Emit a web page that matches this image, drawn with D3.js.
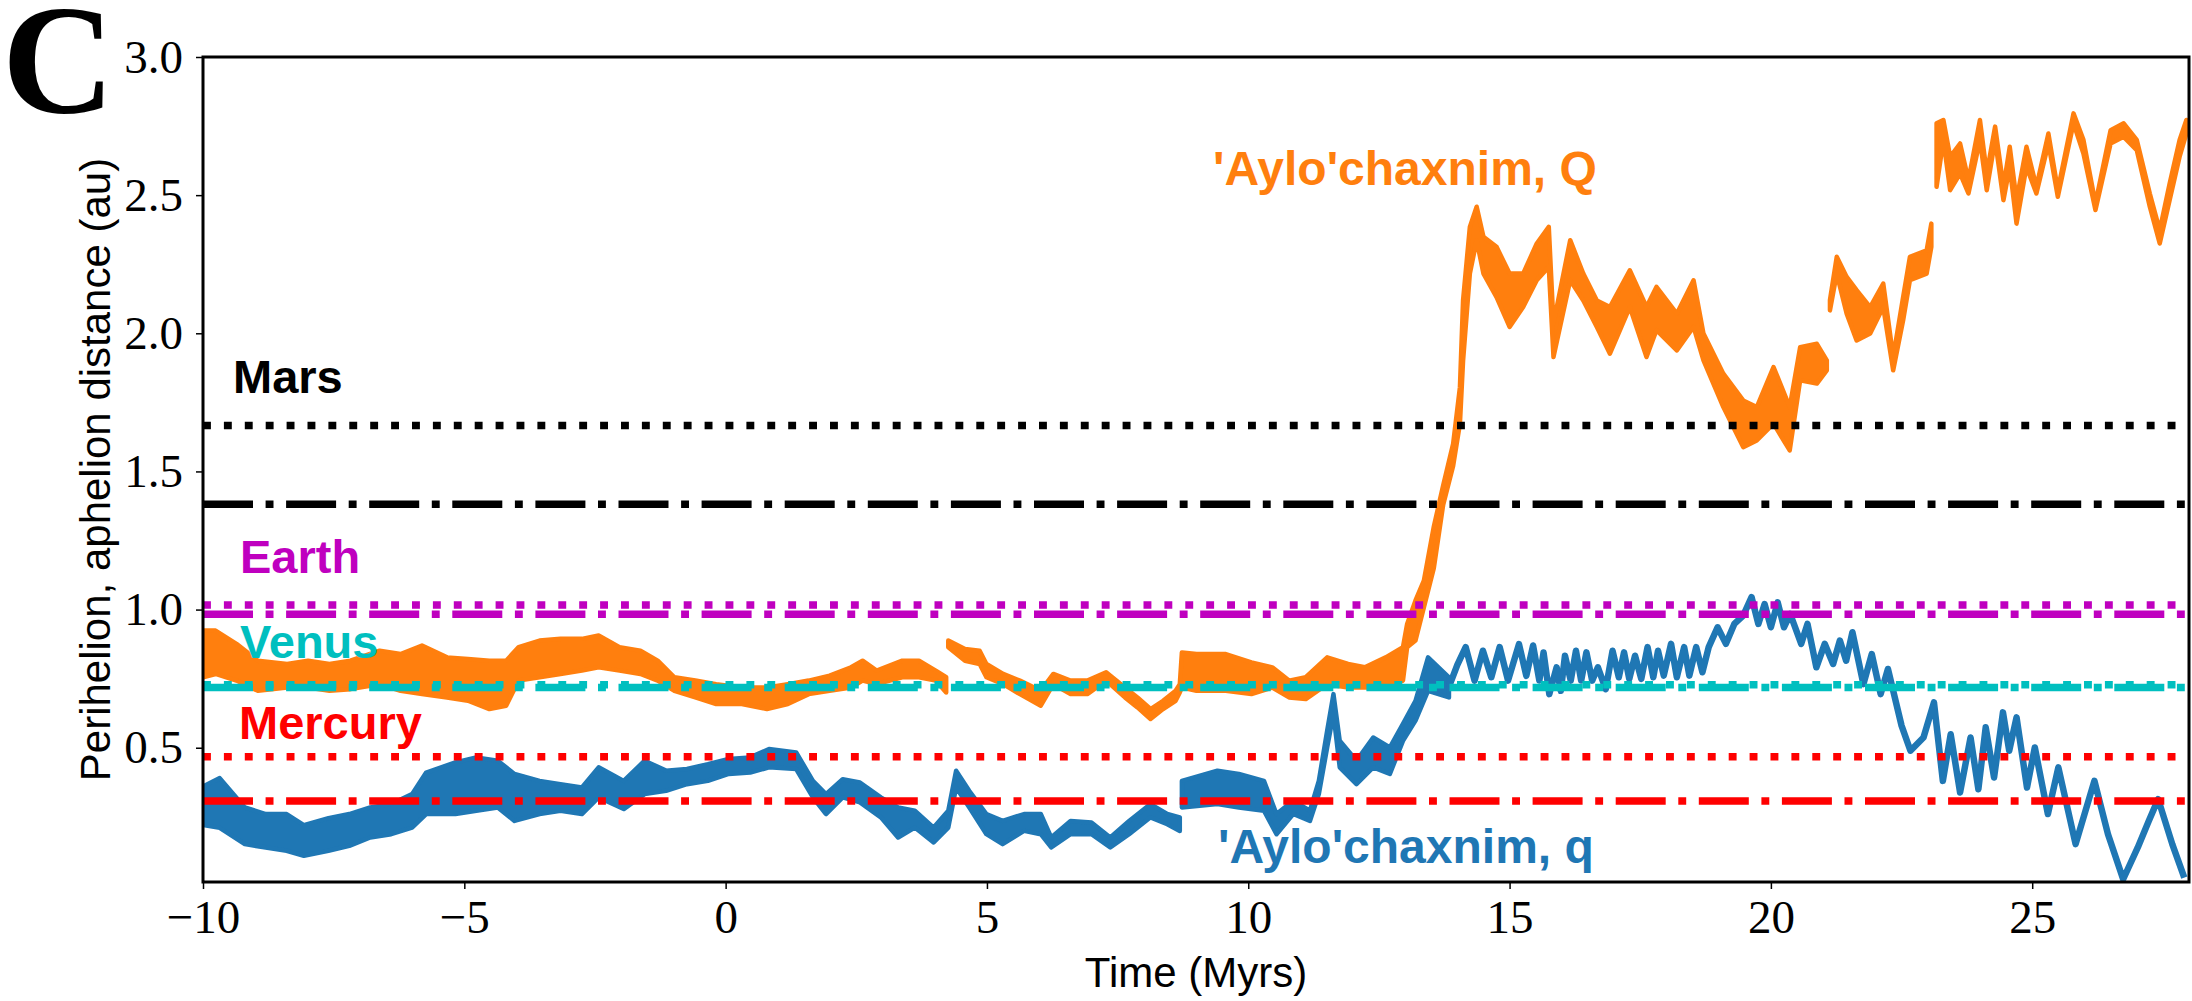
<!DOCTYPE html>
<head>
  <meta charset="utf-8">
  <script src="https://d3js.org/d3.v7.min.js"></script>
  <style>
    body { margin:0; background:#fff; }
    svg { display:block; }
  </style>
</head>
<body>
  <script>
    // values: [time (Myr), low, high] for noisy bands
    var periBandA = [
      [-10, 0.22, 0.36], [-9.68, 0.21, 0.39], [-9.2, 0.151, 0.284], [-8.8, 0.139, 0.26],
      [-8.4, 0.127, 0.26], [-8.07, 0.109, 0.22], [-7.6, 0.127, 0.245], [-7.2, 0.145, 0.26],
      [-6.8, 0.175, 0.284], [-6.4, 0.187, 0.296], [-6.0, 0.211, 0.332], [-5.73, 0.26, 0.41],
      [-5.17, 0.26, 0.447], [-4.77, 0.272, 0.465], [-4.36, 0.284, 0.453], [-4.04, 0.235, 0.405],
      [-3.56, 0.26, 0.38], [-3.16, 0.272, 0.368], [-2.75, 0.26, 0.356], [-2.43, 0.32, 0.429],
      [-1.95, 0.278, 0.38], [-1.55, 0.332, 0.453], [-1.14, 0.344, 0.417], [-0.74, 0.368, 0.423],
      [-0.34, 0.38, 0.44], [0.06, 0.405, 0.459], [0.47, 0.41, 0.465], [0.83, 0.429, 0.495],
      [1.35, 0.423, 0.483], [1.67, 0.32, 0.38], [1.92, 0.26, 0.332], [2.24, 0.32, 0.386],
      [2.57, 0.302, 0.374], [2.97, 0.248, 0.32], [3.3, 0.175, 0.284], [3.62, 0.211, 0.272],
      [3.98, 0.157, 0.211], [4.26, 0.211, 0.272], [4.41, 0.356, 0.417], [4.66, 0.284, 0.344],
      [4.99, 0.187, 0.26], [5.3, 0.151, 0.235], [5.71, 0.199, 0.26], [6.03, 0.187, 0.26],
      [6.23, 0.139, 0.175], [6.6, 0.187, 0.235], [7.0, 0.187, 0.229], [7.36, 0.139, 0.175],
      [7.72, 0.187, 0.235], [8.13, 0.248, 0.296], [8.45, 0.223, 0.26], [8.69, 0.199, 0.248]
    ];
    var periBandB = [
      [8.73, 0.284, 0.38], [9.41, 0.296, 0.417], [9.82, 0.284, 0.405], [10.3, 0.272, 0.38],
      [10.54, 0.187, 0.26], [10.86, 0.26, 0.308], [11.18, 0.235, 0.272], [11.35, 0.332, 0.38],
      [11.51, 0.501, 0.562], [11.63, 0.622, 0.694], [11.75, 0.429, 0.525], [12.07, 0.368, 0.453],
      [12.39, 0.429, 0.537], [12.71, 0.405, 0.501], [12.96, 0.525, 0.586], [13.2, 0.598, 0.67],
      [13.44, 0.706, 0.827], [13.84, 0.682, 0.755]
    ];
    // [time, value] peaks and troughs where q is a single oscillating line
    var periLine = [
      [13.84, 0.72], [14.0, 0.80], [14.16, 0.864], [14.33, 0.743], [14.49, 0.851], [14.65, 0.755],
      [14.81, 0.864], [14.97, 0.743], [15.18, 0.875], [15.32, 0.76], [15.45, 0.87], [15.57, 0.743],
      [15.65, 0.845], [15.76, 0.694], [15.9, 0.791], [15.98, 0.706], [16.06, 0.833], [16.17, 0.743],
      [16.27, 0.851], [16.37, 0.743], [16.47, 0.845], [16.58, 0.743], [16.69, 0.791], [16.84, 0.712],
      [16.97, 0.851], [17.09, 0.755], [17.19, 0.845], [17.29, 0.749], [17.4, 0.833], [17.52, 0.749],
      [17.64, 0.864], [17.75, 0.755], [17.84, 0.851], [17.95, 0.761], [18.09, 0.876], [18.2, 0.755],
      [18.34, 0.864], [18.44, 0.761], [18.57, 0.864], [18.69, 0.773], [18.81, 0.864], [18.98, 0.936],
      [19.14, 0.876], [19.3, 0.948], [19.47, 0.978], [19.63, 1.045], [19.76, 0.948], [19.88, 1.02],
      [20.0, 0.936], [20.13, 1.026], [20.25, 0.936], [20.37, 0.984], [20.58, 0.876], [20.7, 0.948],
      [20.87, 0.791], [21.03, 0.876], [21.19, 0.803], [21.32, 0.888], [21.44, 0.815], [21.56, 0.918],
      [21.77, 0.73], [21.93, 0.839], [22.1, 0.694], [22.24, 0.785], [22.34, 0.706], [22.5, 0.58],
      [22.67, 0.489], [22.92, 0.537], [23.12, 0.664], [23.29, 0.38], [23.44, 0.549], [23.62, 0.338],
      [23.82, 0.537], [23.97, 0.35], [24.11, 0.574], [24.27, 0.392], [24.44, 0.628], [24.56, 0.489],
      [24.7, 0.61], [24.9, 0.356], [25.05, 0.501], [25.3, 0.26], [25.5, 0.429], [25.83, 0.151],
      [26.19, 0.38], [26.45, 0.187], [26.74, 0.024], [27.02, 0.139], [27.23, 0.235], [27.41, 0.314],
      [27.68, 0.151], [27.91, 0.03]
    ];

    var aphBandA = [
      [-10, 0.755, 0.924], [-9.76, 0.767, 0.924], [-9.36, 0.743, 0.876], [-8.95, 0.706, 0.815],
      [-8.39, 0.718, 0.803], [-7.99, 0.718, 0.815], [-7.58, 0.706, 0.803], [-7.18, 0.712, 0.815],
      [-6.62, 0.73, 0.851], [-6.22, 0.706, 0.839], [-5.81, 0.694, 0.87], [-5.33, 0.682, 0.827],
      [-4.93, 0.67, 0.821], [-4.52, 0.64, 0.815], [-4.2, 0.652, 0.815], [-3.96, 0.743, 0.864],
      [-3.56, 0.755, 0.888], [-3.16, 0.767, 0.894], [-2.75, 0.779, 0.894], [-2.43, 0.791, 0.906],
      [-2.03, 0.779, 0.864], [-1.63, 0.767, 0.851], [-1.3, 0.743, 0.815], [-0.98, 0.706, 0.755],
      [-0.58, 0.682, 0.743], [-0.18, 0.658, 0.73], [0.31, 0.658, 0.718], [0.79, 0.64, 0.718],
      [1.19, 0.658, 0.73], [1.59, 0.694, 0.743], [1.99, 0.706, 0.761], [2.4, 0.718, 0.791],
      [2.62, 0.743, 0.815], [2.89, 0.73, 0.779], [3.38, 0.755, 0.815], [3.7, 0.755, 0.815],
      [4.02, 0.743, 0.779], [4.22, 0.70, 0.755]
    ];
    var aphBandB = [
      [4.26, 0.864, 0.888], [4.58, 0.815, 0.857], [4.86, 0.803, 0.851], [4.99, 0.755, 0.803],
      [5.31, 0.73, 0.767], [5.63, 0.694, 0.743], [6.03, 0.652, 0.706], [6.27, 0.73, 0.767],
      [6.6, 0.694, 0.743], [6.92, 0.694, 0.743], [7.28, 0.743, 0.773], [7.64, 0.682, 0.718],
      [7.88, 0.646, 0.682], [8.13, 0.604, 0.64], [8.37, 0.64, 0.67], [8.61, 0.67, 0.706],
      [8.69, 0.70, 0.73], [8.73, 0.718, 0.845], [9.01, 0.706, 0.839], [9.57, 0.706, 0.839],
      [10.06, 0.694, 0.809], [10.46, 0.718, 0.791], [10.78, 0.682, 0.743], [11.1, 0.676, 0.755],
      [11.51, 0.73, 0.827], [11.91, 0.718, 0.803], [12.23, 0.718, 0.791], [12.63, 0.718, 0.827],
      [12.96, 0.743, 0.864], [13.04, 0.864, 0.948], [13.2, 0.888, 1.033], [13.36, 1.008, 1.105],
      [13.55, 1.15, 1.30], [13.73, 1.38, 1.45], [13.92, 1.52, 1.6], [14.05, 1.673, 1.805],
      [14.11, 1.9, 2.12], [14.24, 2.216, 2.385], [14.37, 2.337, 2.458], [14.5, 2.216, 2.349],
      [14.75, 2.131, 2.313], [15.0, 2.023, 2.216], [15.26, 2.095, 2.216], [15.52, 2.192, 2.325],
      [15.75, 2.24, 2.385], [15.84, 1.914, 2.035], [16.16, 2.192, 2.337], [16.41, 2.119, 2.216],
      [16.67, 2.023, 2.119], [16.92, 1.926, 2.095], [17.3, 2.095, 2.228], [17.62, 1.914, 2.095],
      [17.81, 2.011, 2.168], [18.2, 1.938, 2.071], [18.52, 2.023, 2.192], [18.71, 1.902, 1.999],
      [19.09, 1.733, 1.854], [19.47, 1.588, 1.757], [19.73, 1.612, 1.733], [20.05, 1.673, 1.878],
      [20.36, 1.576, 1.733], [20.56, 1.83, 1.95], [20.88, 1.818, 1.962], [21.07, 1.866, 1.902]
    ];
    var aphBandC = [
      [21.13, 2.083, 2.12], [21.26, 2.216, 2.277], [21.45, 2.071, 2.204], [21.64, 1.974, 2.156],
      [21.9, 1.999, 2.095], [22.15, 2.095, 2.18], [22.34, 1.866, 1.914], [22.53, 2.047, 2.131],
      [22.66, 2.192, 2.277], [22.98, 2.216, 2.3], [23.07, 2.313, 2.397]
    ];
    var aphBandD = [
      [23.17, 2.53, 2.76], [23.3, 2.7, 2.772], [23.43, 2.518, 2.639], [23.62, 2.578, 2.687],
      [23.78, 2.506, 2.554], [24.0, 2.7, 2.772], [24.13, 2.518, 2.578], [24.29, 2.7, 2.748],
      [24.45, 2.482, 2.53], [24.57, 2.603, 2.675], [24.7, 2.397, 2.482], [24.89, 2.603, 2.675],
      [25.08, 2.506, 2.53], [25.31, 2.687, 2.723], [25.49, 2.494, 2.518], [25.79, 2.76, 2.796],
      [25.98, 2.651, 2.7], [26.21, 2.446, 2.47], [26.5, 2.687, 2.735], [26.75, 2.711, 2.76],
      [27.0, 2.663, 2.7], [27.25, 2.458, 2.506], [27.44, 2.325, 2.373], [27.63, 2.482, 2.542],
      [27.82, 2.639, 2.7], [27.95, 2.723, 2.772]
    ];

    // planet perihelion / aphelion distances (au)
    var planets = ["Mercury", "Venus", "Earth", "Mars"];
    var planetPeri = [0.307, 0.718, 0.983, 1.381];
    var planetAph = [0.467, 0.728, 1.017, 1.666];

    var xTicks = [-10, -5, 0, 5, 10, 15, 20, 25];
    var yTicks = [0.5, 1.0, 1.5, 2.0, 2.5, 3.0];

    var W = 2192, H = 1001;
    var plotL = 203, plotR = 2189, plotT = 57, plotB = 882;

    var svg = d3.select("body").append("svg")
      .attr("width", W)
      .attr("height", H);

    svg.append("rect").attr("width", W).attr("height", H).style("fill", "#fff");

    var x = d3.scaleLinear().domain([-10, 28]).range([plotL, plotR]);
    var y = d3.scaleLinear().domain([0.014, 3.0]).range([plotB, plotT]);

    var blue = "#1f77b4", orange = "#ff7f0e";
    var planetColor = { Mercury: "#ff0000", Venus: "#00bfbf", Earth: "#bf00bf", Mars: "#000000" };

    svg.append("clipPath").attr("id", "plot")
      .append("rect")
      .attr("x", plotL).attr("y", plotT)
      .attr("width", plotR - plotL).attr("height", plotB - plotT);

    var plot = svg.append("g").attr("clip-path", "url(#plot)");

    var band = d3.area()
      .x(function(d) { return x(d[0]); })
      .y0(function(d) { return y(d[1]); })
      .y1(function(d) { return y(d[2]); });

    var line = d3.line()
      .x(function(d) { return x(d[0]); })
      .y(function(d) { return y(d[1]); });

    [aphBandA, aphBandB, aphBandC, aphBandD].forEach(function(seg) {
      plot.append("path")
        .attr("d", band(seg))
        .style("fill", orange)
        .style("stroke", orange)
        .style("stroke-width", 4.5)
        .style("stroke-linejoin", "round");
    });

    [periBandA, periBandB].forEach(function(seg) {
      plot.append("path")
        .attr("d", band(seg))
        .style("fill", blue)
        .style("stroke", blue)
        .style("stroke-width", 4.5)
        .style("stroke-linejoin", "round");
    });

    plot.append("path")
      .attr("d", line(periLine))
      .style("fill", "none")
      .style("stroke", blue)
      .style("stroke-width", 6.5)
      .style("stroke-linejoin", "round");

    // planet reference lines: dash-dot = perihelion, dotted = aphelion
    planets.forEach(function(p, i) {
      plot.append("line")
        .attr("x1", plotL).attr("x2", plotR)
        .attr("y1", y(planetAph[i])).attr("y2", y(planetAph[i]))
        .style("stroke", planetColor[p])
        .style("stroke-width", 7.5)
        .style("stroke-dasharray", "7.9,13");
      plot.append("line")
        .attr("x1", plotL).attr("x2", plotR)
        .attr("y1", y(planetPeri[i])).attr("y2", y(planetPeri[i]))
        .style("stroke", planetColor[p])
        .style("stroke-width", 7.5)
        .style("stroke-dasharray", "50,12.6,7.9,12.6");
    });

    // axes
    var xAxis = svg.append("g")
      .attr("transform", "translate(0," + plotB + ")")
      .call(d3.axisBottom(x).tickValues(xTicks).tickSize(7).tickPadding(10.5).tickFormat(d3.format("d")));
    var yAxis = svg.append("g")
      .attr("transform", "translate(" + plotL + ",0)")
      .call(d3.axisLeft(y).tickValues(yTicks).tickSize(7).tickPadding(13).tickFormat(d3.format(".1f")));

    [xAxis, yAxis].forEach(function(a) {
      a.select(".domain").remove();
      a.selectAll(".tick line").style("stroke", "#000").style("stroke-width", 1.5);
      a.selectAll(".tick text")
        .style("font-family", "'Liberation Serif', 'Times New Roman', serif")
        .style("font-size", "47px")
        .style("fill", "#000");
    });

    svg.append("rect")
      .attr("x", plotL).attr("y", plotT)
      .attr("width", plotR - plotL).attr("height", plotB - plotT)
      .style("fill", "none")
      .style("stroke", "#000")
      .style("stroke-width", 3);

    svg.append("text")
      .text("Time (Myrs)")
      .attr("x", (plotL + plotR) / 2)
      .attr("y", 987)
      .attr("text-anchor", "middle")
      .style("font-family", "'Liberation Sans', Arial, sans-serif")
      .style("font-size", "42px");

    svg.append("text")
      .text("Perihelion, aphelion distance (au)")
      .attr("text-anchor", "middle")
      .attr("transform", "translate(110," + ((plotT + plotB) / 2) + ") rotate(-90)")
      .style("font-family", "'Liberation Sans', Arial, sans-serif")
      .style("font-size", "42px");

    svg.append("text")
      .text("C")
      .attr("x", 2)
      .attr("y", 112)
      .style("font-family", "'Liberation Serif', 'Times New Roman', serif")
      .style("font-weight", "bold")
      .style("font-size", "156px");

    // series and planet labels
    var labels = [
      { text: "Mars", x: 233, y: 393, color: planetColor.Mars, size: 47 },
      { text: "Earth", x: 240, y: 573, color: planetColor.Earth, size: 47 },
      { text: "Venus", x: 240, y: 658, color: planetColor.Venus, size: 47 },
      { text: "Mercury", x: 239, y: 739, color: planetColor.Mercury, size: 47 },
      { text: "'Aylo'chaxnim, Q", x: 1213, y: 185, color: orange, size: 48 },
      { text: "'Aylo'chaxnim, q", x: 1218, y: 863, color: blue, size: 48 }
    ];

    svg.selectAll(".label")
      .data(labels)
      .enter()
      .append("text")
      .attr("class", "label")
      .text(function(d) { return d.text; })
      .attr("x", function(d) { return d.x; })
      .attr("y", function(d) { return d.y; })
      .style("fill", function(d) { return d.color; })
      .style("font-family", "'Liberation Sans', Arial, sans-serif")
      .style("font-weight", "bold")
      .style("font-size", function(d) { return d.size + "px"; });
  </script>
</body>
